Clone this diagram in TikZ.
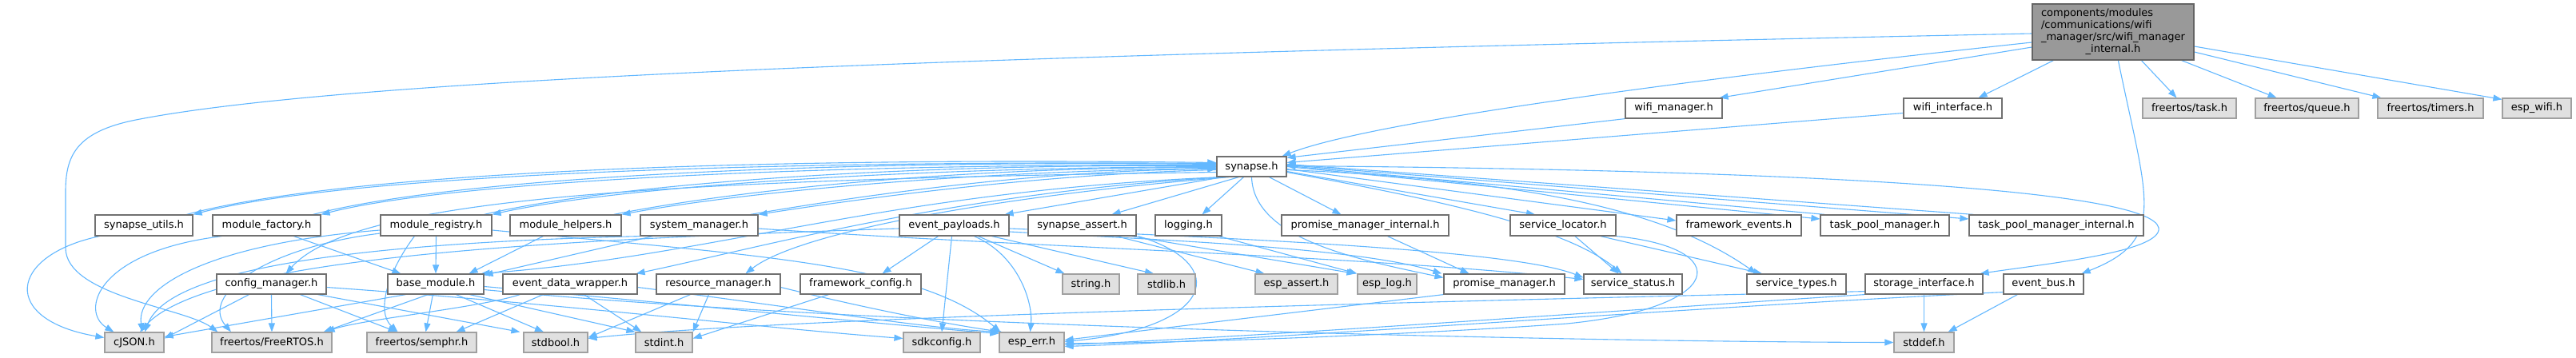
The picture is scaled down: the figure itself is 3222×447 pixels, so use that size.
\documentclass[tikz,border=0pt]{standalone}
\usepackage{fontspec}
\newfontfamily\dv{DejaVu Sans}
\usetikzlibrary{arrows.meta}
\definecolor{edgeblue}{HTML}{63B8FF}
\definecolor{boxline}{HTML}{707070}
\definecolor{extfill}{HTML}{E0E0E0}
\definecolor{extline}{HTML}{A0A0A0}
\definecolor{rootfill}{HTML}{999999}
\definecolor{rootline}{HTML}{646464}
\pgfdeclarelayer{bg}
\pgfsetlayers{bg,main}
\newcommand{\gnode}[7]{\node[#1, minimum width={(#5-#3)*1pt}, minimum height={(#6-#4)*1pt}] (#2) at ({(#3+#5)/2},{(#4+#6)/2}) {#7};}
\begin{document}
\begin{tikzpicture}[x=1pt, y=-1pt,
  e/.style={draw=edgeblue, line width=1.1pt, -{Triangle[length=11pt,width=8pt]}},
  box/.style={draw=boxline, fill=white, line width=1.2pt, inner sep=0pt, font=\dv\fontsize{13}{15}\selectfont},
  ext/.style={box, draw=extline, fill=extfill},
  root/.style={box, draw=rootline, fill=rootfill}]
\begin{pgfonlayer}{bg}
\fill[white] (0,0) rectangle (3222,447);
\end{pgfonlayer}
\useasboundingbox (0,0) rectangle (3222,447);
% row 1
\gnode{root}{W}{2542}{5}{2744}{75}{\begin{tabular}{@{}l@{}}components/modules\\/communications/wifi\\\_manager/src/wifi\_manager\\\multicolumn{1}{@{}c@{}}{\_internal.h}\end{tabular}}
% row 2
\gnode{box}{wm}{2033}{123}{2154}{148}{wifi\_manager.h}
\gnode{box}{wi}{2381}{123}{2504}{148}{wifi\_interface.h}
\gnode{ext}{ftask}{2680}{123}{2797}{148}{freertos/task.h}
\gnode{ext}{fqueue}{2821}{123}{2950}{148}{freertos/queue.h}
\gnode{ext}{ftimers}{2974}{123}{3106}{148}{freertos/timers.h}
\gnode{ext}{ewifi}{3130}{123}{3216}{148}{esp\_wifi.h}
% row 3
\gnode{box}{syn}{1522}{196}{1609}{221}{synapse.h}
% row 4
\gnode{box}{su}{119}{269}{241}{295}{synapse\_utils.h}
\gnode{box}{mf}{266}{269}{401}{295}{module\_factory.h}
\gnode{box}{mr}{476}{269}{615}{295}{module\_registry.h}
\gnode{box}{mh}{638}{269}{777}{295}{module\_helpers.h}
\gnode{box}{sm}{801}{269}{948}{295}{system\_manager.h}
\gnode{box}{ep}{1125}{269}{1262}{295}{event\_payloads.h}
\gnode{box}{sa}{1286}{269}{1421}{295}{synapse\_assert.h}
\gnode{box}{lg}{1445}{269}{1528}{295}{logging.h}
\gnode{box}{pmi}{1603}{269}{1812}{295}{promise\_manager\_internal.h}
\gnode{box}{sl}{1889}{269}{2021}{295}{service\_locator.h}
\gnode{box}{fe}{2097}{269}{2253}{295}{framework\_events.h}
\gnode{box}{tpm}{2277}{269}{2438}{295}{task\_pool\_manager.h}
\gnode{box}{tpmi}{2463}{269}{2681}{295}{task\_pool\_manager\_internal.h}
% row 5
\gnode{box}{cm}{271}{343}{408}{368}{config\_manager.h}
\gnode{box}{bm}{485}{343}{605}{368}{base\_module.h}
\gnode{box}{edw}{629}{343}{797}{368}{event\_data\_wrapper.h}
\gnode{box}{rm}{821}{343}{976}{368}{resource\_manager.h}
\gnode{box}{fc}{1001}{343}{1152}{368}{framework\_config.h}
\gnode{ext}{str}{1329}{343}{1400}{368}{string.h}
\gnode{ext}{stl}{1423}{343}{1495}{368}{stdlib.h}
\gnode{ext}{ea}{1570}{343}{1673}{368}{esp\_assert.h}
\gnode{ext}{el}{1698}{343}{1772}{368}{esp\_log.h}
\gnode{box}{pm}{1806}{343}{1957}{368}{promise\_manager.h}
\gnode{box}{ss}{1981}{343}{2104}{368}{service\_status.h}
\gnode{box}{st}{2185}{343}{2309}{368}{service\_types.h}
\gnode{box}{stor}{2333}{343}{2480}{368}{storage\_interface.h}
\gnode{box}{eb}{2506}{343}{2606}{368}{event\_bus.h}
% row 6
\gnode{ext}{cJ}{131}{416}{205}{441}{cJSON.h}
\gnode{ext}{fr}{265}{416}{415}{441}{freertos/FreeRTOS.h}
\gnode{ext}{sem}{459}{416}{596}{441}{freertos/semphr.h}
\gnode{ext}{sbool}{655}{416}{735}{441}{stdbool.h}
\gnode{ext}{sint}{795}{416}{866}{441}{stdint.h}
\gnode{ext}{sdk}{1130}{416}{1226}{441}{sdkconfig.h}
\gnode{ext}{ee}{1250}{416}{1331}{441}{esp\_err.h}
\gnode{ext}{sd}{2369}{416}{2444}{441}{stddef.h}

\begin{pgfonlayer}{bg}
% root node
\draw[e] ([yshift=-2pt]W.west) .. controls (1300,68) and (450,95) .. (170,150) .. controls (95,165) and (82,195) .. (82,240) -- (82,310) .. controls (82,370) and (230,385) .. ([xshift=8pt]fr.north west);
\draw[e] ([yshift=-13pt]W.west) .. controls (2150,95) and (1720,150) .. ([xshift=-6pt]syn.north east);
\draw[e] ([yshift=-19pt]W.west) -- ([xshift=-4pt]wm.north east);
\draw[e] ([xshift=27pt]W.south west) -- ([xshift=-30pt]wi.north east);
\draw[e] ([xshift=108pt]W.south west) .. controls (2685,250) and (2712,300) .. ([xshift=-3pt]eb.north east);
\draw[e] ([xshift=137pt]W.south west) -- ([xshift=-16pt]ftask.north);
\draw[e] ([xshift=-16pt]W.south east) -- ([xshift=-38pt]fqueue.north);
\draw[e] ([yshift=-25pt]W.east) -- ([xshift=5pt]ftimers.north west);
\draw[e] ([yshift=-18pt]W.east) -- ([yshift=-2pt]ewifi.north west);
\draw[e] (wm.south west) -- ([yshift=-2pt]syn.north east);
\draw[e] ([yshift=-6pt]wi.west) -- ([yshift=5pt]syn.east);
% synapse to left row 4 (and back)
\draw[e] ([yshift=4pt]syn.west) .. controls (900,200) and (420,222) .. (su.north east);
\draw[e] ([xshift=-8pt]su.north east) .. controls (420,218) and (900,196) .. ([yshift=5pt]syn.west);
\draw[e] ([yshift=2pt]syn.west) .. controls (1000,205) and (560,228) .. (mf.north east);
\draw[e] ([xshift=-10pt]mf.north east) .. controls (560,224) and (1000,200) .. ([yshift=3pt]syn.west);
\draw[e] (syn.west) .. controls (1100,210) and (760,236) .. (mr.north east);
\draw[e] ([xshift=-10pt]mr.north east) .. controls (760,232) and (1100,205) .. ([yshift=1pt]syn.west);
\draw[e] ([yshift=-2pt]syn.west) .. controls (1200,214) and (920,242) .. (mh.north east);
\draw[e] ([xshift=-10pt]mh.north east) .. controls (920,238) and (1200,209) .. ([yshift=-1pt]syn.west);
\draw[e] ([yshift=-4pt]syn.west) .. controls (1300,218) and (1080,248) .. (sm.north east);
\draw[e] ([xshift=-10pt]sm.north east) .. controls (1080,244) and (1300,213) .. ([yshift=-3pt]syn.west);
% synapse to row 5 left
\draw[e] ([yshift=-7pt]syn.west) .. controls (800,225) and (440,250) .. ([xshift=18pt]cm.north);
\draw[e] ([xshift=6pt]syn.south west) .. controls (1100,240) and (900,320) .. ([xshift=-4pt]bm.north east);
\draw[e] ([xshift=12pt]syn.south west) .. controls (1200,240) and (950,310) .. ([xshift=-2pt]edw.north east);
\draw[e] ([xshift=16pt]syn.south west) .. controls (1250,245) and (1000,290) .. ([xshift=34pt]rm.north);
% synapse to row 4 middle/right
\draw[e] ([xshift=8pt]syn.south west) -- ([xshift=-6pt]ep.north east);
\draw[e] ([xshift=28pt]syn.south west) -- ([xshift=37pt]sa.north);
\draw[e] ([xshift=-10pt]syn.south) -- ([xshift=17pt]lg.north);
\draw[e] ([xshift=22pt]syn.south) -- ([xshift=-30pt]pmi.north);
\draw[e] ([yshift=-6pt]syn.east) -- ([xshift=-35pt]sl.north);
\draw[e] ([yshift=-3pt]syn.east) -- ([yshift=6pt]fe.west);
\draw[e] (syn.east) -- ([yshift=8pt]tpm.west);
\draw[e] ([xshift=6pt]tpm.north west) -- ([yshift=1pt]syn.east);
\draw[e] ([yshift=2pt]syn.east) -- ([yshift=8pt]tpmi.west);
\draw[e] ([xshift=6pt]tpmi.north west) -- ([yshift=3pt]syn.east);
\draw[e] (syn.south) .. controls (1568,300) and (1700,325) .. ([yshift=8pt]pm.west);
\draw[e] ([yshift=-7pt]syn.east) .. controls (1800,250) and (1960,285) .. ([xshift=-14pt]ss.north);
\draw[e] ([yshift=-4pt]syn.east) .. controls (1900,225) and (2080,260) .. ([xshift=-50pt]st.north);
\draw[e] ([yshift=1pt]syn.east) .. controls (2300,213) and (2690,240) .. (2700,285) .. controls (2705,315) and (2560,330) .. ([xshift=-4pt]stor.north east);
% row 4 downwards
\draw[e] ([xshift=6pt]su.south west) .. controls (10,320) and (0,400) .. ([yshift=6pt]cJ.west);
\draw[e] ([xshift=12pt]mf.south west) .. controls (120,315) and (100,390) .. ([xshift=12pt]cJ.north west);
\draw[e] ([xshift=102pt]mf.south west) -- ([xshift=17pt]bm.north west);
\draw[e] ([yshift=-6pt]mr.west) .. controls (260,305) and (170,360) .. ([xshift=10pt]cJ.north);
\draw[e] ([yshift=-10pt]mr.west) .. controls (330,310) and (250,370) .. ([xshift=-51pt]fr.north);
\draw[e] ([xshift=43pt]mr.south west) .. controls (485,340) and (470,390) .. ([xshift=-30pt]sem.north);
\draw[e] (mr.south) -- (bm.north);
\draw[e] ([yshift=-6pt]mr.east) .. controls (950,320) and (1150,330) .. ([xshift=2pt]ee.north west);
\draw[e] ([xshift=42pt]mh.south west) -- ([xshift=-19pt]bm.north east);
\draw[e] ([xshift=16pt]sm.south west) -- ([yshift=-2pt]bm.north east);
\draw[e] (sm.south west) .. controls (420,305) and (210,340) .. ([xshift=13pt]cJ.north);
\draw[e] ([yshift=-4pt]sm.east) .. controls (1300,310) and (1700,320) .. ([yshift=6pt]ss.west);
% event_payloads
\draw[e] ([yshift=-4pt]ep.west) .. controls (700,300) and (260,320) .. ([xshift=7pt]cJ.north);
\draw[e] ([xshift=-20pt]ep.south) -- ([xshift=27pt]fc.north);
\draw[e] ([xshift=-3pt]ep.south) -- (sdk.north);
\draw[e] ([xshift=30pt]ep.south) -- ([xshift=-33pt]str.north);
\draw[e] ([xshift=47pt]ep.south) -- ([xshift=-16pt]stl.north);
\draw[e] ([xshift=25pt]ep.south) .. controls (1275,320) and (1292,380) .. ([xshift=-2pt]ee.north);
\draw[e] ([yshift=-8pt]ep.east) .. controls (1450,300) and (1700,310) .. ([xshift=-2pt]pm.north west);
\draw[e] ([yshift=-4pt]ep.east) .. controls (1600,300) and (1900,315) .. ([yshift=8pt]ss.west);
% synapse_assert, logging, promise, locator
\draw[e] ([xshift=43pt]sa.south) -- ([xshift=-40pt]ea.north);
\draw[e] ([xshift=-6pt]sa.south east) -- ([xshift=-2pt]el.north west);
\draw[e] ([xshift=2pt]sa.south east) .. controls (1540,330) and (1520,410) .. ([yshift=1pt]ee.east);
\draw[e] ([xshift=-4pt]lg.south east) -- (el.north west);
\draw[e] ([xshift=28pt]pmi.south) -- ([xshift=-44pt]pm.north);
\draw[e] (pm.south west) -- ([yshift=3pt]ee.east);
\draw[e] ([xshift=15pt]sl.south) -- ([xshift=-18pt]ss.north);
\draw[e] ([xshift=47pt]sl.south) -- ([xshift=-43pt]st.north);
\draw[e] (sl.south east) .. controls (2170,310) and (2160,385) .. (1960,405) .. controls (1750,420) and (1450,430) .. ([yshift=-1pt]ee.east);
% storage_interface, event_bus
\draw[e] (stor.south west) .. controls (2000,390) and (1600,420) .. ([yshift=-3pt]ee.east);
\draw[e] ([yshift=4pt]stor.south west) .. controls (1900,375) and (1000,395) .. ([yshift=5pt]sbool.east);
\draw[e] (stor.south) -- (sd.north);
\draw[e] ([xshift=18pt]eb.south west) -- ([xshift=-8pt]sd.north east);
\draw[e] ([yshift=3pt]eb.south west) .. controls (2100,385) and (1600,425) .. ([yshift=-5pt]ee.east);
% config_manager
\draw[e] ([xshift=-28pt]cm.south) -- ([yshift=5pt]cJ.east);
\draw[e] (cm.south) -- (fr.north);
\draw[e] ([xshift=36pt]cm.south) -- ([xshift=-31pt]sem.north);
\draw[e] ([xshift=58pt]cm.south) -- ([xshift=-4pt]sbool.north west);
\draw[e] ([yshift=-4pt]cm.east) .. controls (700,380) and (950,410) .. ([yshift=5pt]sdk.west);
% base_module
\draw[e] ([xshift=23pt]bm.south west) -- ([yshift=7pt]cJ.east);
\draw[e] ([xshift=51pt]bm.south west) -- ([xshift=-11pt]fr.north east);
\draw[e] ([xshift=57pt]bm.south west) -- ([xshift=5pt]sem.north);
\draw[e] ([xshift=86pt]bm.south west) -- ([xshift=-15pt]sbool.north);
\draw[e] ([xshift=103pt]bm.south west) -- (sint.north west);
\draw[e] ([yshift=-3pt]bm.east) .. controls (900,385) and (1150,410) .. ([yshift=-2pt]ee.north west);
\draw[e] ([yshift=-7pt]bm.east) .. controls (1100,410) and (2000,428) .. (sd.west);
% event_data_wrapper
\draw[e] ([xshift=22pt]edw.south west) .. controls (600,385) and (450,400) .. ([xshift=-8pt]fr.north east);
\draw[e] ([xshift=51pt]edw.south west) -- ([xshift=43pt]sem.north);
\draw[e] ([xshift=102pt]edw.south west) -- ([xshift=8pt]sint.north west);
\draw[e] ([yshift=-4pt]edw.east) .. controls (1000,385) and (1150,410) .. (ee.north west);
% resource_manager, framework_config
\draw[e] ([xshift=-35pt]rm.south) -- ([yshift=6pt]sbool.east);
\draw[e] ([xshift=-12pt]rm.south) -- (sint.north east);
\draw[e] ([yshift=-4pt]rm.east) .. controls (1080,385) and (1180,405) .. ([xshift=4pt]ee.north west);
\draw[e] ([xshift=-40pt]fc.south) -- ([yshift=5pt]sint.east);
\end{pgfonlayer}
\end{tikzpicture}
\end{document}
